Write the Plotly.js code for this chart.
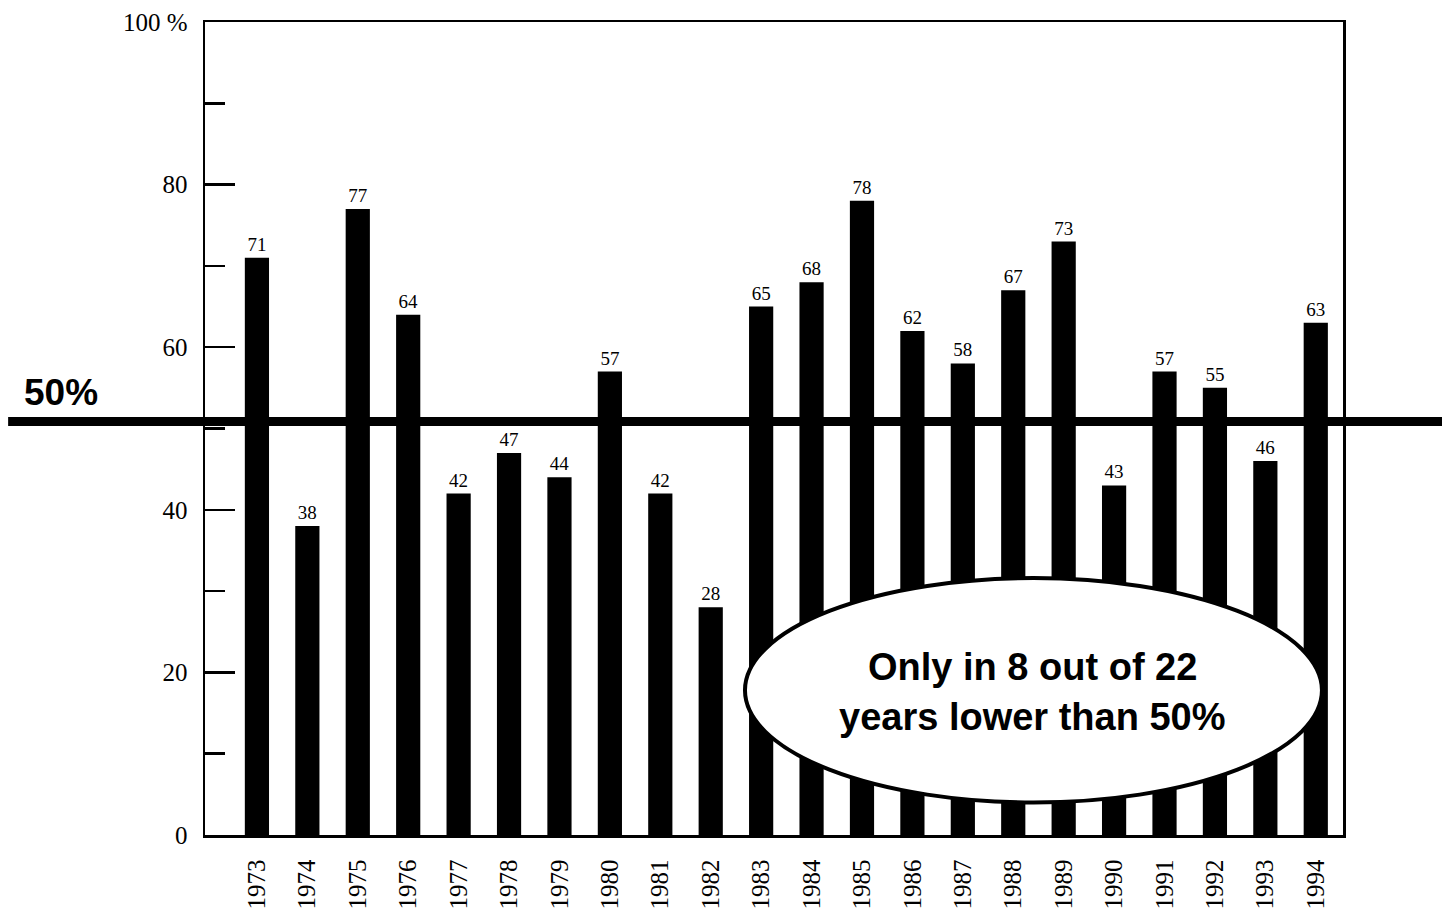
<!DOCTYPE html>
<html>
<head>
<meta charset="utf-8">
<script src="https://cdn.plot.ly/plotly-3.0.1.min.js"></script>
<style>html,body{margin:0;padding:0;background:#fff;}#chart{width:1442px;height:915px;}</style>
</head>
<body>
<div id="chart"></div>
<script>
const years = ['1973','1974','1975','1976','1977','1978','1979','1980','1981','1982','1983','1984','1985','1986','1987','1988','1989','1990','1991','1992','1993','1994'];
const values = [71,38,77,64,42,47,44,57,42,28,65,68,78,62,58,67,73,43,57,55,46,63];
const yTickVals = [0,20,40,60,80,100];
const yTickText = ['0','20','40','60','80','100 %'];
const thresholdValue = 50;
const thresholdLabel = '50%';
const calloutLines = ['Only in 8 out of 22', 'years lower than 50%'];

const serif = 'Liberation Serif, Times New Roman, serif';
const sans = 'Liberation Sans, Arial, sans-serif';

const trace = {
  type: 'bar',
  x: years,
  y: values,
  marker: {color: '#000'},
  width: 0.48,
  text: values.map(String),
  textposition: 'outside',
  textfont: {family: serif, size: 19, color: '#000'},
  cliponaxis: false,
  hoverinfo: 'x+y'
};

const layout = {
  width: 1442, height: 915,
  margin: {l: 205, r: 99, t: 22, b: 80},
  paper_bgcolor: '#fff', plot_bgcolor: '#fff',
  showlegend: false,
  xaxis: {
    type: 'category',
    range: [-1.03, 21.54],
    showline: true, linecolor: '#000', linewidth: 2.5, mirror: true,
    ticks: '', showgrid: false, zeroline: false,
    tickangle: -90,
    ticklabelstandoff: 12,
    tickfont: {family: serif, size: 25, color: '#000'}
  },
  yaxis: {
    range: [0, 100],
    showline: true, linecolor: '#000', linewidth: 2.5, mirror: true,
    showgrid: false, zeroline: false,
    tickmode: 'array', tickvals: yTickVals, ticktext: yTickText,
    ticks: 'inside', ticklen: 30, tickwidth: 2.5, tickcolor: '#000',
    minor: {ticks: 'inside', dtick: 10, ticklen: 20, tickwidth: 2.5, tickcolor: '#000', showgrid: false},
    ticklabelstandoff: 10,
    tickfont: {family: serif, size: 25, color: '#000'}
  },
  shapes: [
    {type: 'line', xref: 'paper', yref: 'y', ysizemode: 'pixel', yanchor: thresholdValue,
     x0: -0.173, x1: 1.09, y0: 7, y1: 7,
     line: {color: '#000', width: 9}, layer: 'above'},
    {type: 'circle', xref: 'paper', yref: 'paper', x0: 0.4745, x1: 0.9815, y0: 0.04, y1: 0.316,
     fillcolor: '#fff', line: {color: '#000', width: 4}, layer: 'above'}
  ],
  annotations: [
    {xref: 'paper', yref: 'y', x: -0.161, y: thresholdValue, yshift: 36, xanchor: 'left', yanchor: 'middle',
     text: '<b>' + thresholdLabel + '</b>', showarrow: false,
     font: {family: sans, size: 37, color: '#000'}},
    {xref: 'paper', yref: 'paper', x: 0.727, y: 0.207, xanchor: 'center', yanchor: 'middle',
     text: '<b>' + calloutLines[0] + '</b>', showarrow: false,
     font: {family: sans, size: 38, color: '#000'}},
    {xref: 'paper', yref: 'paper', x: 0.727, y: 0.145, xanchor: 'center', yanchor: 'middle',
     text: '<b>' + calloutLines[1] + '</b>', showarrow: false,
     font: {family: sans, size: 38, color: '#000'}}
  ]
};

Plotly.newPlot('chart', [trace], layout, {displayModeBar: false, staticPlot: true});
</script>
</body>
</html>
